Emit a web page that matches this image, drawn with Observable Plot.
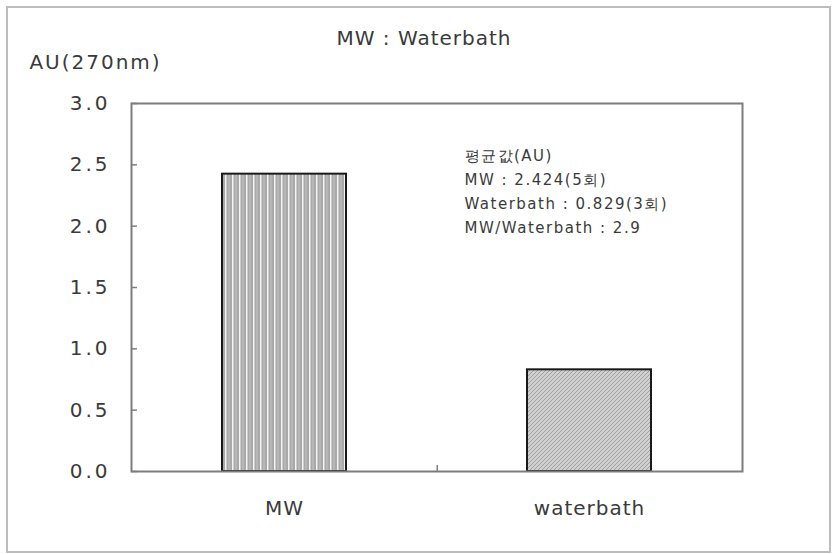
<!DOCTYPE html>
<html>
<head>
<meta charset="utf-8">
<script src="https://cdn.jsdelivr.net/npm/d3@7"></script>
<script src="https://cdn.jsdelivr.net/npm/@observablehq/plot@0.6"></script>
<style>
  html, body { margin: 0; padding: 0; background: #fff; overflow: hidden; }
  #wrap { position: relative; width: 833px; height: 554px; }
  #border { position: absolute; left: 6px; top: 6px; width: 821px; height: 543px;
            border: 2px solid #bdbdbd; pointer-events: none; }
  #wrap svg { position: absolute; left: 0; top: 0; }
</style>
</head>
<body>
<div id="wrap"><div id="border"></div></div>
<script>
// Mean absorbance at 270 nm for the two extraction methods
const categories = ["MW", "waterbath"];
const means = [2.424, 0.829];
const runs = [5, 3];
const yTicks = [0, 0.5, 1.0, 1.5, 2.0, 2.5, 3.0];
const title = "MW : Waterbath";
const yLabel = "AU(270nm)";
const noteHeader = "평균값(AU)";
const noteNames = ["MW", "Waterbath"];

const data = categories.map((c, i) => ({cat: c, value: means[i]}));
const patternOf = {MW: "url(#vstripe)", waterbath: "url(#diag)"};

const ratio = (means[0] / means[1]).toFixed(1);
const note = [
  noteHeader,
  `${noteNames[0]} : ${means[0].toFixed(3)}(${runs[0]}회)`,
  `${noteNames[1]} : ${means[1].toFixed(3)}(${runs[1]}회)`,
  `${noteNames[0]}/${noteNames[1]} : ${ratio}`
].join("\n");

const W = 833, H = 554;
const mL = 131, mR = 91, mT = 103, mB = 83;
const innerW = W - mL - mR, innerH = H - mT - mB;
const padIn = 0.594, padOut = 0.297;
const step = innerW / (categories.length - padIn + 2 * padOut);

const font = "DejaVu Sans";
const ink = "#3a3a3a";

const chart = Plot.plot({
  width: W,
  height: H,
  marginLeft: mL,
  marginRight: mR,
  marginTop: mT,
  marginBottom: mB,
  style: {fontFamily: font, color: ink, background: "transparent"},
  x: {domain: categories, paddingInner: padIn, paddingOuter: padOut},
  y: {domain: [0, 3]},
  color: {type: "identity"},
  marks: [
    Plot.barY(data, {x: "cat", y: "value", fill: d => patternOf[d.cat], stroke: "#1a1a1a", strokeWidth: 2}),
    Plot.frame({stroke: "#7d7d7d", strokeWidth: 2}),
    // inward ticks on the value axis
    Plot.ruleY(yTicks, {y: d => d, stroke: "#7d7d7d", strokeWidth: 1.5, insetRight: innerW - 6}),
    // divider tick between the two categories
    Plot.ruleX([categories[0]], {x: d => d, dx: step / 2, stroke: "#7d7d7d", strokeWidth: 1.5, insetTop: innerH - 6}),
    Plot.axisY({ticks: yTicks, tickFormat: d3.format(".1f"), tickSize: 0, tickPadding: 21,
      fontSize: 20, label: null, fill: ink}),
    Plot.axisX({tickSize: 0, tickPadding: 29, fontSize: 20, label: null, fill: ink}),
    Plot.text([title], {frameAnchor: "top", dx: -13, dy: -73, fontSize: 20, fill: ink}),
    Plot.text([yLabel], {frameAnchor: "top-left", textAnchor: "middle", dx: -36, dy: -49, fontSize: 20, fill: ink}),
    Plot.text([note], {frameAnchor: "top-left", textAnchor: "start", lineAnchor: "top", lineHeight: 1.6,
      dx: 333, dy: 40, fontSize: 15, fill: ink})
  ]
});

// letter spacing of the label groups
const svg = d3.select(chart);
svg.selectAll('g[aria-label="y-axis tick label"]').style("letter-spacing", "3px");
svg.selectAll('g[aria-label="x-axis tick label"]').style("letter-spacing", "1px");
const textGroups = svg.selectAll('g[aria-label="text"]').nodes();
const spacing = ["1px", "2px", "1.5px"];
textGroups.forEach((n, i) => d3.select(n).style("letter-spacing", spacing[i]));

// hatch patterns used by the bars
const defs = svg.insert("defs", ":first-child");
const v = defs.append("pattern").attr("id", "vstripe").attr("patternUnits", "userSpaceOnUse")
  .attr("width", 7).attr("height", 7);
v.append("rect").attr("width", 7).attr("height", 7).attr("fill", "#a9a9a9");
v.append("rect").attr("x", 1).attr("width", 1.5).attr("height", 7).attr("fill", "#f4f4f4");
v.append("rect").attr("x", 4.5).attr("width", 1).attr("height", 7).attr("fill", "#c6c6c6");
const g = defs.append("pattern").attr("id", "diag").attr("patternUnits", "userSpaceOnUse")
  .attr("width", 4).attr("height", 4);
g.append("rect").attr("width", 4).attr("height", 4).attr("fill", "#d0d0d0");
g.append("path").attr("d", "M-1,1 l2,-2 M0,4 l4,-4 M3,5 l2,-2").attr("stroke", "#a0a0a0").attr("stroke-width", 1);

document.getElementById("wrap").appendChild(chart);
</script>
</body>
</html>
